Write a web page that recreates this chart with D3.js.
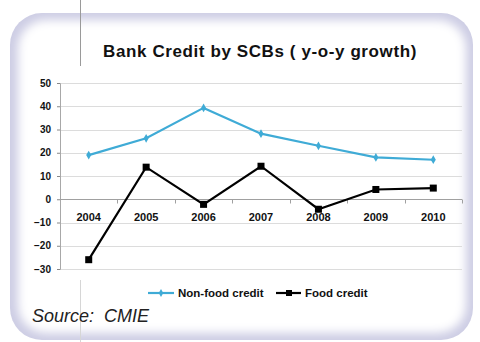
<!DOCTYPE html>
<html>
<head>
<meta charset="utf-8">
<script src="https://cdn.jsdelivr.net/npm/d3@7/dist/d3.min.js"></script>
<style>
  html, body { margin: 0; padding: 0; background: #fff; }
  svg { display: block; font-family: Arial, "Liberation Sans", sans-serif; }
</style>
</head>
<body>
<svg id="chart" width="480" height="342"></svg>
<script>
// Bank credit by scheduled commercial banks, year-on-year growth (%)
const years = ["2004", "2005", "2006", "2007", "2008", "2009", "2010"];
const nonFoodCredit = [19, 26.2, 39.3, 28.2, 23, 18, 17];
const foodCredit = [-26, 13.8, -2.2, 14.2, -4.3, 4.2, 4.8];
const yTicks = [50, 40, 30, 20, 10, 0, -10, -20, -30];

const svg = d3.select("#chart");
const defs = svg.append("defs");

// Soft lavender frame around the panel
const blur = defs.append("filter").attr("id", "soft")
  .attr("x", "-10%").attr("y", "-10%").attr("width", "120%").attr("height", "120%");
blur.append("feGaussianBlur").attr("stdDeviation", 5);

svg.append("rect").attr("x", 10).attr("y", 13).attr("width", 463).attr("height", 327)
  .attr("rx", 32).attr("fill", "#cdcde4");
svg.append("rect").attr("x", 18).attr("y", 20).attr("width", 448).attr("height", 313)
  .attr("rx", 28).attr("fill", "#fff").attr("filter", "url(#soft)");

// Stray vertical guide line
svg.append("line").attr("x1", 80.5).attr("x2", 80.5).attr("y1", 0).attr("y2", 66)
  .attr("stroke", "#9a9a9a").attr("stroke-width", 1);
svg.append("line").attr("x1", 80.5).attr("x2", 80.5).attr("y1", 280).attr("y2", 342)
  .attr("stroke", "#d6d6d6").attr("stroke-width", 1);

// Title
svg.append("text").attr("x", 260).attr("y", 57).attr("text-anchor", "middle")
  .attr("font-size", 17).attr("font-weight", "bold").attr("fill", "#111")
  .attr("letter-spacing", 0.6)
  .text("Bank Credit by SCBs ( y-o-y growth)");

const plot = { left: 60, right: 462, top: 83, bottom: 269 };

const x = d3.scaleBand().domain(years).range([plot.left, plot.right]);
const y = d3.scaleLinear().domain([-30, 50]).range([plot.bottom, plot.top]);

// Horizontal gridlines
svg.append("g").selectAll("line").data(yTicks.filter(d => d !== 0)).join("line")
  .attr("x1", plot.left).attr("x2", plot.right)
  .attr("y1", d => Math.round(y(d)) + 0.5).attr("y2", d => Math.round(y(d)) + 0.5)
  .attr("stroke", "#dcdcdc").attr("stroke-width", 1.2);

// Y axis
const yAxis = svg.append("g").attr("transform", `translate(${plot.left},0)`)
  .call(d3.axisLeft(y).tickValues(yTicks).tickSize(3).tickPadding(6).tickFormat(d3.format("d")));
yAxis.select(".domain").attr("stroke", "#a8a8a8");
yAxis.selectAll(".tick line").attr("stroke", "#888");
yAxis.selectAll("text").attr("font-size", 10).attr("font-weight", "bold").attr("fill", "#111")
  .attr("font-family", "Arial, 'Liberation Sans', sans-serif");

// X axis along zero line, ticks at category boundaries
const zeroY = Math.round(y(0)) + 0.5;
svg.append("line").attr("x1", plot.left).attr("x2", plot.right).attr("y1", zeroY).attr("y2", zeroY)
  .attr("stroke", "#a0a0a0").attr("stroke-width", 1);
const bounds = years.map(d => x(d)).concat([plot.right]).slice(1);
svg.append("g").selectAll("line").data(bounds).join("line")
  .attr("x1", d => Math.round(d) + 0.5).attr("x2", d => Math.round(d) + 0.5)
  .attr("y1", zeroY).attr("y2", zeroY + 4).attr("stroke", "#a0a0a0");
svg.append("g").selectAll("text").data(years).join("text")
  .attr("x", d => x(d) + x.bandwidth() / 2).attr("y", zeroY + 21)
  .attr("text-anchor", "middle").attr("font-size", 11).attr("font-weight", "bold")
  .attr("fill", "#111").text(d => d);

const cx = d => x(d) + x.bandwidth() / 2;
const line = d3.line().x(d => cx(d.year)).y(d => y(d.v));

const nf = years.map((yr, i) => ({ year: yr, v: nonFoodCredit[i] }));
const fd = years.map((yr, i) => ({ year: yr, v: foodCredit[i] }));

const blue = "#3fabd6";

svg.append("path").datum(nf).attr("d", line).attr("fill", "none")
  .attr("stroke", blue).attr("stroke-width", 2.2);
svg.append("g").selectAll("path").data(nf).join("path")
  .attr("transform", d => `translate(${cx(d.year)},${y(d.v)})`)
  .attr("d", d3.symbol(d3.symbolDiamond, 22)).attr("fill", blue);

svg.append("path").datum(fd).attr("d", line).attr("fill", "none")
  .attr("stroke", "#000").attr("stroke-width", 2.2);
svg.append("g").selectAll("rect").data(fd).join("rect")
  .attr("x", d => cx(d.year) - 3.5).attr("y", d => y(d.v) - 3.5)
  .attr("width", 7).attr("height", 7).attr("fill", "#000");

// Legend
const lg = svg.append("g").attr("transform", "translate(0,293)");
lg.append("line").attr("x1", 148).attr("x2", 174).attr("y1", 0).attr("y2", 0)
  .attr("stroke", blue).attr("stroke-width", 2.2);
lg.append("path").attr("transform", "translate(161,0)")
  .attr("d", d3.symbol(d3.symbolDiamond, 18)).attr("fill", blue);
lg.append("text").attr("x", 178).attr("y", 4).attr("font-size", 11.5).attr("font-weight", "bold")
  .attr("fill", "#111").text("Non-food credit");
lg.append("line").attr("x1", 276).attr("x2", 301).attr("y1", 0).attr("y2", 0)
  .attr("stroke", "#000").attr("stroke-width", 2.2);
lg.append("rect").attr("x", 286).attr("y", -3).attr("width", 6).attr("height", 6).attr("fill", "#000");
lg.append("text").attr("x", 305).attr("y", 4).attr("font-size", 11.5).attr("font-weight", "bold")
  .attr("fill", "#111").text("Food credit");

// Source note
svg.append("text").attr("x", 32).attr("y", 322).attr("font-size", 18).attr("font-style", "italic")
  .attr("fill", "#222").style("white-space", "pre").text("Source:  CMIE");
</script>
</body>
</html>
